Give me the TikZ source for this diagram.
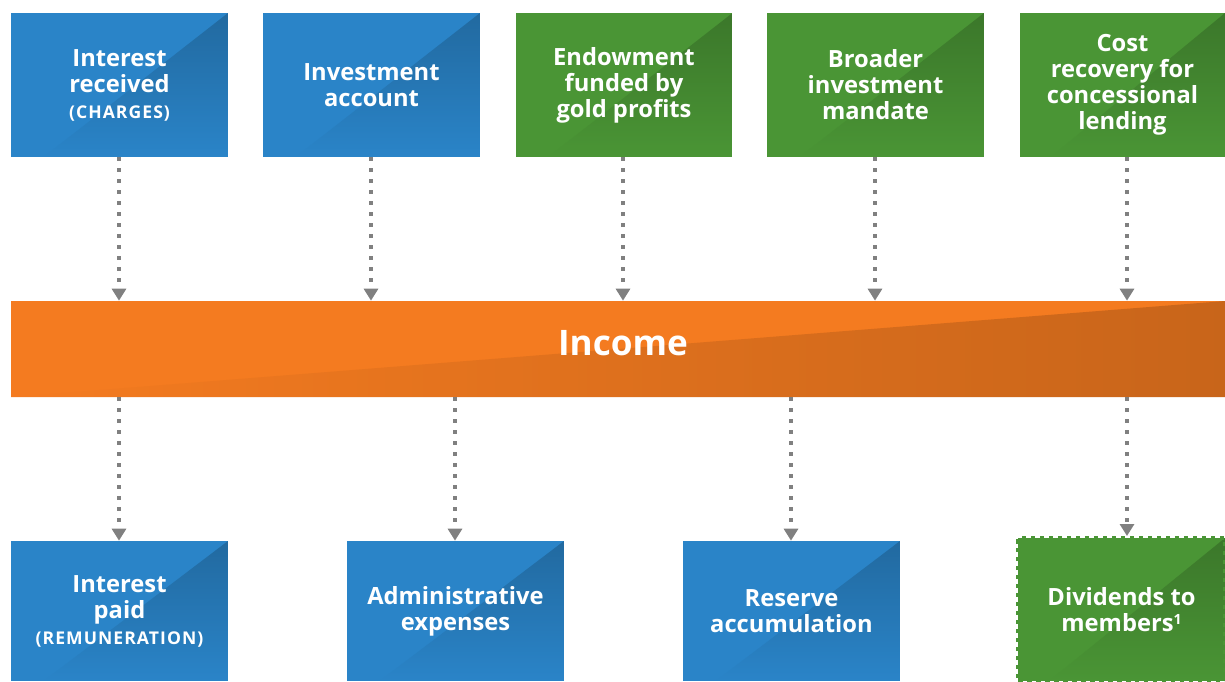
\documentclass[tikz,border=0pt]{standalone}
\usepackage{fontspec}
\setmainfont{Open Sans}
\newfontfamily\capsfont[LetterSpace=6]{Open Sans}
\usepackage{xcolor}
\usetikzlibrary{arrows.meta, positioning, calc}
\definecolor{boxblue}{HTML}{2A84C8}
\definecolor{boxgreen}{HTML}{4A9535}
\definecolor{barorange}{HTML}{F47B20}
\definecolor{flowgray}{HTML}{808080}

\begin{document}
\begin{tikzpicture}[x=0.02cm, y=-0.02cm,
    card/.style={fill=#1, minimum width=4.34cm, minimum height=2.88cm, inner sep=0pt,
        text=white, align=center, font=\fontsize{13.5}{14.8}\selectfont\bfseries,
        path picture={\shade[shading angle=-45, top color=#1!80!black, bottom color=#1]
            (path picture bounding box.north east)
            -- (path picture bounding box.south east)
            -- ($(path picture bounding box.south west)!0.15!(path picture bounding box.south east)$) -- cycle;}},
    flow/.style={draw=flowgray, line width=0.065cm, dash pattern=on 0.08cm off 0.14cm,
        -{Triangle[width=0.28cm, length=0.24cm]}}]
    \useasboundingbox (0,0) rectangle (1225,681);

    % Sources of income
    \node[card=boxblue] (recv) at (119.5,85) {Interest\\received\\{\capsfont\bfseries\fontsize{10}{14.8}\selectfont (CHARGES)}};
    \node[card=boxblue] (invest) at (371.5,85) {Investment\\account};
    \node[card=boxgreen] (endow) at (624,85) {Endowment\\funded by\\gold profits};
    \node[card=boxgreen] (mandate) at (875.5,85) {Broader\\investment\\mandate};
    \node[card=boxgreen, minimum width=4.1cm] (costrec) at (1122.5,85) {Cost\\recovery for\\concessional\\lending};

    % Income bar
    \node[fill=barorange, minimum width=24.28cm, minimum height=1.92cm, inner sep=0pt,
        path picture={\shade[left color=barorange, right color=barorange!82!black]
            (path picture bounding box.south west)
            -- (path picture bounding box.north east)
            -- (path picture bounding box.south east) -- cycle;}] (income) at (618,349) {};
    \node[text=white, font=\fontsize{20}{24}\selectfont\bfseries] (incometext) at (623,343) {Income};

    % Uses of income
    \node[card=boxblue, minimum height=2.8cm] (paid) at (119.5,611) {Interest\\paid\\{\capsfont\bfseries\fontsize{10}{14.8}\selectfont (REMUNERATION)}};
    \node[card=boxblue, minimum height=2.8cm] (admin) at (455.5,611) {Administrative\\expenses};
    \node[card=boxblue, minimum height=2.8cm] (reserve) at (791.5,611) {Reserve\\accumulation};
    \node[card=boxgreen, minimum width=4.14cm, minimum height=2.86cm, draw=boxgreen,
        line width=0.08cm, dash pattern=on 0.09cm off 0.09cm] (divid) at (1121.5,609.5)
        {Dividends to\\members{\fontsize{8}{8}\selectfont\raisebox{0.9ex}{1}}};

    % Arrows into income
    \foreach \src/\xx in {recv/119, invest/371, endow/623, mandate/875, costrec/1127}
        \draw[flow] (\xx,0 |- \src.south) -- (\xx,0 |- income.north);

    % Arrows out of income
    \foreach \dst/\xx in {paid/119, admin/455, reserve/791, divid/1127}
        \draw[flow] (\xx,0 |- income.south) -- (\xx,0 |- \dst.north);
\end{tikzpicture}
\end{document}
